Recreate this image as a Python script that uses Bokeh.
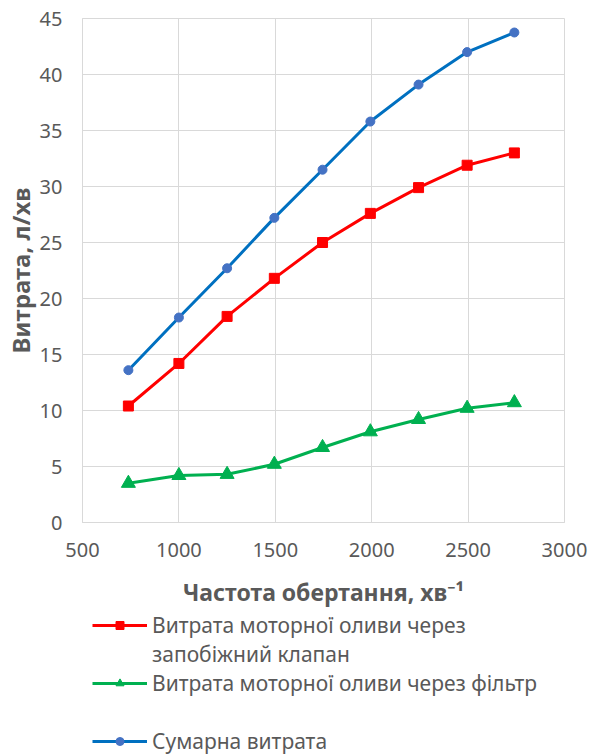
from bokeh.plotting import figure
from bokeh.layouts import column
from bokeh.models import Legend, LegendItem, FixedTicker
from bokeh.embed import file_html
from bokeh.resources import INLINE

# ---- data ----
rpm = [738, 1000, 1250, 1495, 1745, 1993, 2243, 2495, 2740]
valve = [10.4, 14.2, 18.4, 21.8, 25.0, 27.6, 29.9, 31.9, 33.0]
filt = [3.5, 4.2, 4.3, 5.2, 6.7, 8.1, 9.2, 10.2, 10.7]
total = [13.6, 18.3, 22.7, 27.2, 31.5, 35.8, 39.1, 42.0, 43.75]

x_ticks = [500, 1000, 1500, 2000, 2500, 3000]
y_ticks = [0, 5, 10, 15, 20, 25, 30, 35, 40, 45]

label_valve_1 = "Витрата моторної оливи через"
label_valve_2 = "запобіжний клапан"
label_filter = "Витрата моторної оливи через фільтр"
label_total = "Сумарна витрата"
x_title = "Частота обертання, хв⁻¹"
y_title = "Витрата, л/хв"

FONT = "Noto Sans"
GRAY_TXT = "#595959"
GRID = "#d9d9d9"
RED = "#ff0000"
GREEN = "#00b050"
BLUE = "#0070c0"
BLUE_MK = "#4472c4"

# ---------------- main chart ----------------
p = figure(width=592, height=610, x_range=(500, 3000), y_range=(0, 45),
           output_backend="svg", toolbar_location=None,
           min_border_left=81, min_border_right=28, min_border_top=18,
           min_border_bottom=88)
p.background_fill_color = "white"
p.border_fill_color = "white"
p.outline_line_color = GRID

p.xaxis.ticker = FixedTicker(ticks=x_ticks)
p.yaxis.ticker = FixedTicker(ticks=y_ticks)
for ax in (p.xaxis[0], p.yaxis[0]):
    ax.axis_line_color = GRID
    ax.major_tick_line_color = None
    ax.minor_tick_line_color = None
    ax.major_tick_out = 0
    ax.major_tick_in = 0
    ax.major_label_text_font = FONT
    ax.major_label_text_font_size = "20px"
    ax.major_label_text_color = GRAY_TXT
    ax.axis_label_text_font = FONT
    ax.axis_label_text_font_style = "bold"
    ax.axis_label_text_color = GRAY_TXT

p.xaxis.axis_label_text_font_size = "23px"
p.xaxis.major_label_standoff = 20
p.xaxis.axis_label = x_title
p.xaxis.axis_label_standoff = 16
p.yaxis.axis_label_text_font_size = "24px"
p.yaxis.major_label_standoff = 20
p.yaxis.axis_label = y_title
p.yaxis.axis_label_standoff = 0
p.yaxis.axis_label_text_line_height = 0.85

p.xgrid.grid_line_color = GRID
p.ygrid.grid_line_color = GRID

p.line(rpm, valve, line_color=RED, line_width=3)
p.scatter(rpm, valve, marker="square", size=10, fill_color=RED, line_color=RED)
p.line(rpm, filt, line_color=GREEN, line_width=3)
p.scatter(rpm, filt, marker="triangle", size=14, fill_color=GREEN, line_color=GREEN)
p.line(rpm, total, line_color=BLUE, line_width=3)
p.scatter(rpm, total, marker="circle", size=9, fill_color=BLUE_MK, line_color=BLUE_MK)

# ---------------- legend strip ----------------
# proxy renderers carry the same data but the strip's ranges keep them out of view;
# they only supply the legend swatches
lp = figure(width=592, height=145, output_backend="svg", toolbar_location=None,
            x_axis_type=None, y_axis_type=None, min_border=0,
            x_range=(-2, -1), y_range=(-2, -1))
lp.outline_line_color = None
lp.background_fill_color = "white"
lp.border_fill_color = "white"
lp.xgrid.visible = False
lp.ygrid.visible = False

lv_l = lp.line(rpm, valve, line_color=RED, line_width=3)
lv_m = lp.scatter(rpm, valve, marker="square", size=9, fill_color=RED, line_color=RED)
lf_l = lp.line(rpm, filt, line_color=GREEN, line_width=3)
lf_m = lp.scatter(rpm, filt, marker="triangle", size=12, fill_color=GREEN, line_color=GREEN)
lt_l = lp.line(rpm, total, line_color=BLUE, line_width=3)
lt_m = lp.scatter(rpm, total, marker="circle", size=8, fill_color=BLUE_MK, line_color=BLUE_MK)
dummy = lp.line(rpm, total, line_alpha=0)

legend = Legend(items=[
    LegendItem(label=label_valve_1, renderers=[lv_l, lv_m]),
    LegendItem(label=label_valve_2, renderers=[dummy]),
    LegendItem(label=label_filter, renderers=[lf_l, lf_m]),
    LegendItem(label=" ", renderers=[dummy]),
    LegendItem(label=label_total, renderers=[lt_l, lt_m]),
], location=(10, 0))
legend.label_text_font = FONT
legend.label_text_font_size = "21px"
legend.label_text_color = GRAY_TXT
legend.glyph_width = 55
legend.glyph_height = 20
legend.label_height = 29
legend.label_standoff = 5
legend.spacing = 0
legend.padding = 0
legend.margin = 0
legend.border_line_alpha = 0
legend.background_fill_alpha = 0
lp.add_layout(legend, "center")

open("out.html", "w").write(file_html(column(p, lp, spacing=0), INLINE))
